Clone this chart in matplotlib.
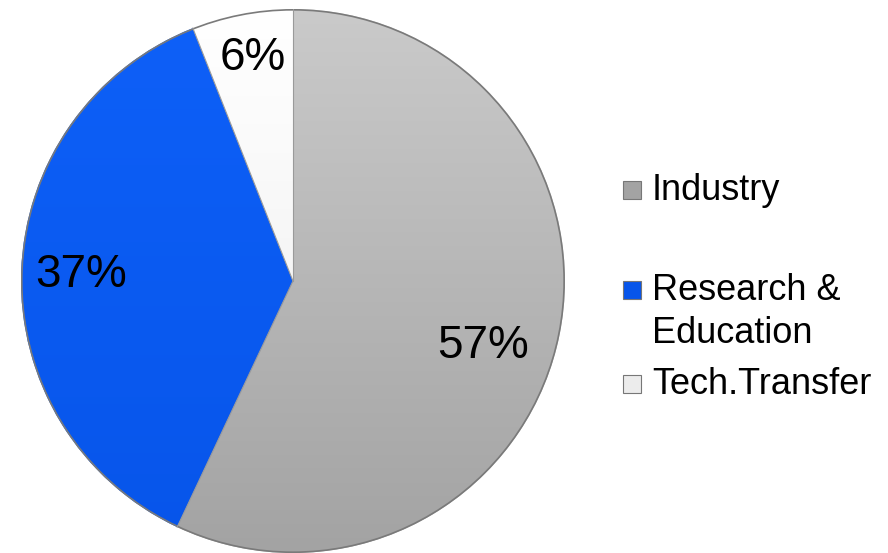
import matplotlib.pyplot as plt
import matplotlib.patches as mpatches
import matplotlib.colors as mcolors
import numpy as np

plt.rcParams['font.family'] = ['Liberation Sans', 'DejaVu Sans']

# 数据
labels = ['Industry', 'Research &\nEducation', 'Tech.Transfer']
values = [57, 37, 6]
colors_top = ['#cacaca', '#0e60f8', '#ffffff']
colors_bot = ['#a3a3a3', '#0755ea', '#ececec']

fig = plt.figure(figsize=(8.88, 5.53), dpi=100)
ax = fig.add_axes([0.0236, 0.0, 0.6126, 0.9837])

wedges, texts, autotexts = ax.pie(values, startangle=90, counterclock=False,
                                  colors=colors_top, autopct='%d%%', pctdistance=0.82,
                                  wedgeprops=dict(linewidth=0),
                                  textprops=dict(fontsize=33, color='black'))
ax.set_xlim(-1, 1)
ax.set_ylim(-1, 1)
ax.set_aspect('equal')

# 渐变填充
for w, c1, c2 in zip(wedges, colors_top, colors_bot):
    w.set_facecolor('none')
    a = np.array(mcolors.to_rgb(c1))
    b = np.array(mcolors.to_rgb(c2))
    t = np.linspace(0, 1, 256)[:, None]
    grad = (a * (1 - t) + b * t)[:, None, :]
    im = ax.imshow(grad, extent=(-1, 1, -1, 1), origin='upper', zorder=0.5, aspect='auto')
    im.set_clip_path(w)

# 边缘阴影
ax.add_patch(mpatches.Circle((0, 0), 0.997, fill=False, edgecolor='#7a7a7a', linewidth=1.2, zorder=3))
for w in wedges:
    th = np.deg2rad(w.theta1)
    ax.plot([0, np.cos(th)], [0, np.sin(th)], color='#9a9a9a', linewidth=0.8, zorder=3)

# 标签位置微调
autotexts[0].set_position((0.70, -0.24))
autotexts[1].set_position((-0.778, 0.022))
autotexts[2].set_position((-0.147, 0.82))
for t in autotexts:
    t.set_zorder(4)

# 图例（手动）
leg_y = [190, 290, 384]
for lab, y, c1, c2 in zip(labels, leg_y, colors_top, colors_bot):
    yf = 1 - y / 553
    fig.patches.append(mpatches.Rectangle((623 / 888, yf - 9 / 553), 18 / 888, 18 / 553,
                                          transform=fig.transFigure, facecolor=c2,
                                          edgecolor='#777777', linewidth=0.8))
    if '\n' in lab:
        fig.text(652 / 888, yf + 17 / 553, lab, fontsize=26, va='top', ha='left',
                 linespacing=1.3, transform=fig.transFigure)
    else:
        fig.text(652 / 888, yf, lab, fontsize=26, va='center', ha='left',
                 transform=fig.transFigure)

fig.savefig('out.png', dpi=100)
